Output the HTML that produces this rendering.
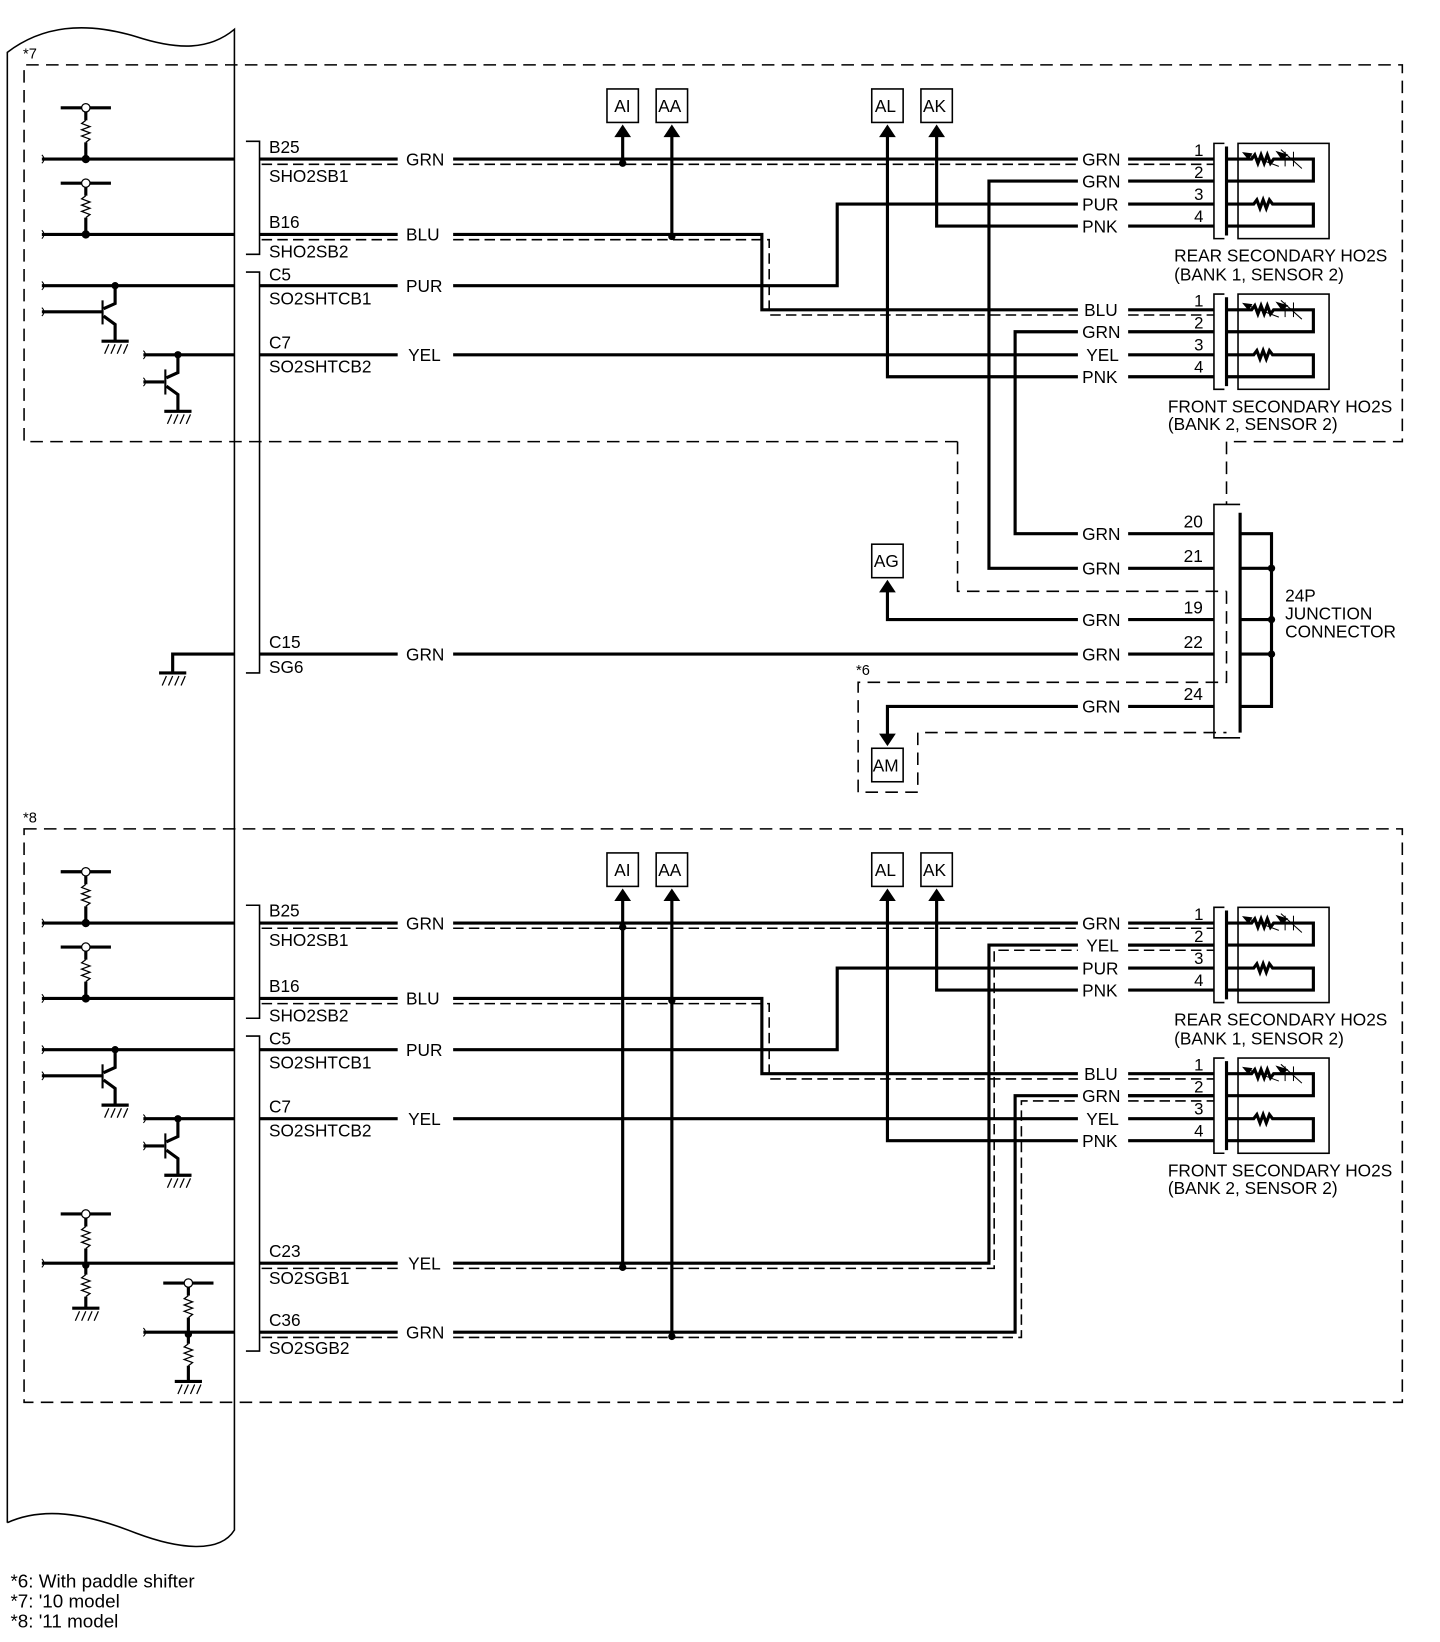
<!DOCTYPE html>
<html><head><meta charset="utf-8"><style>
html,body{margin:0;padding:0;background:#fff}
svg{display:block}
text{font-family:"Liberation Sans",Arial,sans-serif;fill:#000;stroke:none}
</style></head><body>
<svg width="1440" height="1642" viewBox="0 0 1376 1569" preserveAspectRatio="none" xmlns="http://www.w3.org/2000/svg">
<defs>
<g id="pu">
 <line x1="58" y1="0" x2="106" y2="0" stroke="#000" stroke-width="3"/>
 <circle cx="82" cy="0" r="4" fill="#fff" stroke="#000" stroke-width="1.2"/>
 <line x1="82" y1="4" x2="82" y2="12" stroke="#000" stroke-width="3"/>
 <polyline points="82,12 78,15 86,18 78,21 86,24 78,27 86,30 82,33" fill="none" stroke="#000" stroke-width="1.2"/>
 <line x1="82" y1="33" x2="82" y2="49" stroke="#000" stroke-width="3"/>
 <circle cx="82" cy="49" r="3.5" fill="#000"/>
</g>
<g id="gnd">
 <line x1="-13" y1="0" x2="13" y2="0" stroke="#000" stroke-width="3"/>
 <path d="M-10,12 L-6,3 M-4,12 L0,3 M2,12 L6,3 M8,12 L12,3" stroke="#000" stroke-width="1.2"/>
</g>
<g id="sensor">
 <path d="M1170,0 L1160,0 L1160,91 L1170,91" fill="none" stroke="#000" stroke-width="1.5"/>
 <line x1="1172" y1="3" x2="1172" y2="88" stroke="#000" stroke-width="3"/>
 <rect x="1183" y="0" width="87" height="91" fill="none" stroke="#000" stroke-width="1.5"/>
 <polyline points="1172,15 1196,15 1199,11 1202,19 1205,11 1208,19 1211,11 1214,19 1217,15 1255,15 1255,36 1172,36" fill="none" stroke="#000" stroke-width="3"/>
 <line x1="1190" y1="10" x2="1222" y2="22" stroke="#000" stroke-width="1"/>
 <polygon points="1188,9 1196,10 1193,15" fill="#000"/>
 <line x1="1228" y1="8" x2="1228" y2="22" stroke="#000" stroke-width="1"/>
 <line x1="1236" y1="8" x2="1236" y2="22" stroke="#000" stroke-width="1"/>
 <line x1="1224" y1="6" x2="1244" y2="24" stroke="#000" stroke-width="1"/>
 <polygon points="1220,8 1230,11 1225,15" fill="#000"/>
 <polyline points="1172,58 1198,58 1201,54 1204,62 1207,54 1210,62 1213,54 1216,58 1255,58 1255,79 1172,79" fill="none" stroke="#000" stroke-width="3"/>
 <text x="1141" y="12" font-size="16">1</text>
 <text x="1141" y="33" font-size="16">2</text>
 <text x="1141" y="54" font-size="16">3</text>
 <text x="1141" y="75" font-size="16">4</text>
</g>
<g id="box"><rect x="0" y="0" width="30" height="32" fill="#fff" stroke="#000" stroke-width="1.5"/></g>
<g id="panel" stroke="#000" fill="none">
 <use href="#pu" y="103"/>
 <use href="#pu" y="175"/>
 <line x1="40" y1="152" x2="224" y2="152" stroke-width="3"/>
 <line x1="40" y1="224" x2="224" y2="224" stroke-width="3"/>
 <line x1="40" y1="273" x2="224" y2="273" stroke-width="3"/>
 <circle cx="110" cy="273" r="3.5" fill="#000" stroke="none"/>
 <line x1="40" y1="298" x2="97" y2="298" stroke-width="3"/>
 <line x1="98" y1="287" x2="98" y2="310" stroke-width="2"/>
 <polyline points="110,273 110,290 99,295" stroke-width="3"/>
 <polyline points="99,302 110,310 110,326" stroke-width="3"/>
 <use href="#gnd" x="110" y="326"/>
 <line x1="137" y1="339" x2="224" y2="339" stroke-width="3"/>
 <circle cx="170" cy="339" r="3.5" fill="#000" stroke="none"/>
 <line x1="137" y1="365" x2="157" y2="365" stroke-width="3"/>
 <line x1="158" y1="353" x2="158" y2="377" stroke-width="2"/>
 <polyline points="170,339 170,356 159,361" stroke-width="3"/>
 <polyline points="159,369 170,377 170,393" stroke-width="3"/>
 <use href="#gnd" x="170" y="393"/>
 <path d="M40,148 q4,4 0,8 M40,220 q4,4 0,8 M40,269 q4,4 0,8 M40,294 q4,4 0,8 M137,335 q4,4 0,8 M137,361 q4,4 0,8" stroke-width="1"/>
 <path d="M235,135 L248,135 L248,243 L235,243" stroke-width="1.5"/>
 <line x1="248" y1="152" x2="380" y2="152" stroke-width="3"/>
 <line x1="433" y1="152" x2="1030" y2="152" stroke-width="3"/>
 <line x1="1078" y1="152" x2="1160" y2="152" stroke-width="3"/>
 <line x1="250" y1="157" x2="380" y2="157" stroke-width="1.5" stroke-dasharray="10,5"/>
 <line x1="433" y1="157" x2="1030" y2="157" stroke-width="1.5" stroke-dasharray="10,5"/>
 <line x1="1078" y1="157" x2="1160" y2="157" stroke-width="1.5" stroke-dasharray="10,5"/>
 <line x1="248" y1="224" x2="380" y2="224" stroke-width="3"/>
 <polyline points="433,224 728,224 728,296 1030,296" stroke-width="3"/>
 <line x1="1078" y1="296" x2="1160" y2="296" stroke-width="3"/>
 <line x1="250" y1="229" x2="380" y2="229" stroke-width="1.5" stroke-dasharray="10,5"/>
 <polyline points="433,229 735,229 735,301 1030,301" stroke-width="1.5" stroke-dasharray="10,5"/>
 <line x1="1078" y1="301" x2="1160" y2="301" stroke-width="1.5" stroke-dasharray="10,5"/>
 <line x1="248" y1="273" x2="380" y2="273" stroke-width="3"/>
 <polyline points="433,273 800,273 800,195 1030,195" stroke-width="3"/>
 <line x1="1078" y1="195" x2="1160" y2="195" stroke-width="3"/>
 <line x1="248" y1="339" x2="380" y2="339" stroke-width="3"/>
 <line x1="433" y1="339" x2="1030" y2="339" stroke-width="3"/>
 <line x1="1078" y1="339" x2="1160" y2="339" stroke-width="3"/>
 <polyline points="895,122 895,216 1030,216" stroke-width="3"/>
 <line x1="1078" y1="216" x2="1160" y2="216" stroke-width="3"/>
 <polyline points="848,122 848,360 1030,360" stroke-width="3"/>
 <line x1="1078" y1="360" x2="1160" y2="360" stroke-width="3"/>
 <line x1="1078" y1="173" x2="1160" y2="173" stroke-width="3"/>
 <line x1="1078" y1="317" x2="1160" y2="317" stroke-width="3"/>
 <line x1="595" y1="122" x2="595" y2="152" stroke-width="3"/>
 <line x1="642" y1="122" x2="642" y2="224" stroke-width="3"/>
 <circle cx="642" cy="226" r="3.5" fill="#000" stroke="none"/>
 <polygon points="587,131 595,119 603,131" fill="#000" stroke="none"/>
 <polygon points="634,131 642,119 650,131" fill="#000" stroke="none"/>
 <polygon points="840,131 848,119 856,131" fill="#000" stroke="none"/>
 <polygon points="887,131 895,119 903,131" fill="#000" stroke="none"/>
 <use href="#box" x="580" y="85"/>
 <use href="#box" x="627" y="85"/>
 <use href="#box" x="833" y="85"/>
 <use href="#box" x="880" y="85"/>
 <use href="#sensor" y="137"/>
 <use href="#sensor" y="281"/>
</g>
<g id="ptext" font-size="16.5">
 <text x="257" y="146">B25</text><text x="257" y="174">SHO2SB1</text>
 <text x="257" y="218">B16</text><text x="257" y="246">SHO2SB2</text>
 <text x="257" y="268">C5</text><text x="257" y="291">SO2SHTCB1</text>
 <text x="257" y="333">C7</text><text x="257" y="356">SO2SHTCB2</text>
 <text x="388" y="158">GRN</text><text x="388" y="230">BLU</text>
 <text x="388" y="279">PUR</text><text x="390" y="345">YEL</text>
 <text x="587" y="107">AI</text><text x="629" y="107">AA</text>
 <text x="836" y="107">AL</text><text x="882" y="107">AK</text>
 <text x="1122" y="250">REAR SECONDARY HO2S</text><text x="1122" y="268">(BANK 1, SENSOR 2)</text>
 <text x="1116" y="394">FRONT SECONDARY HO2S</text><text x="1116" y="411">(BANK 2, SENSOR 2)</text>
</g>
</defs>

<path d="M7,1455 L7,50 C40,25 80,20 130,35 C170,48 200,48 224,28 L224,1462 C210,1485 170,1480 130,1465 C80,1445 40,1440 7,1455" fill="none" stroke="#000" stroke-width="1.5"/>

<text x="22" y="56" font-size="14">*7</text>
<path d="M915,422 L23,422 L23,62 L1340,62 L1340,422 L1172,422 L1172,482" fill="none" stroke="#000" stroke-width="1.5" stroke-dasharray="12,7"/>
<path d="M915,422 L915,565 L1172,565" fill="none" stroke="#000" stroke-width="1.5" stroke-dasharray="12,7"/>
<use href="#panel"/>
<use href="#ptext"/>
<g font-size="16.5">
 <text x="1034" y="158">GRN</text><text x="1034" y="179">GRN</text><text x="1034" y="201">PUR</text><text x="1034" y="222">PNK</text>
 <text x="1036" y="302">BLU</text><text x="1034" y="323">GRN</text><text x="1038" y="345">YEL</text><text x="1034" y="366">PNK</text>
</g>
<circle cx="595" cy="156" r="3.5" fill="#000"/>
<g stroke="#000" fill="none" stroke-width="3">
 <polyline points="1030,173 945,173 945,543 1030,543"/>
 <polyline points="1030,317 970,317 970,510 1030,510"/>
 <line x1="1078" y1="510" x2="1160" y2="510"/>
 <line x1="1078" y1="543" x2="1160" y2="543"/>
 <polyline points="1030,592 848,592 848,565"/>
 <line x1="1078" y1="592" x2="1160" y2="592"/>
 <line x1="248" y1="625" x2="380" y2="625"/>
 <line x1="433" y1="625" x2="1030" y2="625"/>
 <line x1="1078" y1="625" x2="1160" y2="625"/>
 <polyline points="1030,675 848,675 848,702"/>
 <line x1="1078" y1="675" x2="1160" y2="675"/>
 <polyline points="165,643 165,625 224,625"/>
 <line x1="1185" y1="490" x2="1185" y2="700"/>
 <polyline points="1185,510 1215,510 1215,675 1185,675"/>
 <line x1="1185" y1="543" x2="1215" y2="543"/>
 <line x1="1185" y1="592" x2="1215" y2="592"/>
 <line x1="1185" y1="625" x2="1215" y2="625"/>
</g>
<use href="#gnd" x="165" y="643"/>
<circle cx="1215" cy="543" r="3.5" fill="#000"/><circle cx="1215" cy="592" r="3.5" fill="#000"/><circle cx="1215" cy="625" r="3.5" fill="#000"/>
<path d="M1185,482 L1160,482 L1160,705 L1185,705" fill="none" stroke="#000" stroke-width="1.5"/>
<path d="M235,260 L248,260 L248,643 L235,643" fill="none" stroke="#000" stroke-width="1.5"/>
<polygon points="840,566 848,554 856,566" fill="#000"/>
<polygon points="840,701 848,713 856,701" fill="#000"/>
<use href="#box" x="833" y="520"/>
<use href="#box" x="833" y="715"/>
<path d="M1172,565 L1172,652 L820,652 L820,757 L877,757 L877,700 L1172,700" fill="none" stroke="#000" stroke-width="1.5" stroke-dasharray="12,7"/>
<g font-size="16.5">
 <text x="835" y="542">AG</text><text x="834" y="737">AM</text>
 <text x="1131" y="504">20</text><text x="1131" y="537">21</text><text x="1131" y="586">19</text><text x="1131" y="619">22</text><text x="1131" y="669">24</text>
 <text x="1034" y="516">GRN</text><text x="1034" y="549">GRN</text><text x="1034" y="598">GRN</text><text x="1034" y="631">GRN</text><text x="1034" y="681">GRN</text>
 <text x="257" y="619">C15</text><text x="257" y="643">SG6</text><text x="388" y="631">GRN</text>
 <text x="1228" y="575">24P</text><text x="1228" y="592">JUNCTION</text><text x="1228" y="609">CONNECTOR</text>
 <text x="818" y="645" font-size="14">*6</text>
</g>

<text x="22" y="786" font-size="14">*8</text>
<rect x="23" y="792" width="1317" height="548" fill="none" stroke="#000" stroke-width="1.5" stroke-dasharray="12,7"/>
<g transform="translate(0,730)"><use href="#panel"/><use href="#ptext"/></g>
<g font-size="16.5">
 <text x="1034" y="888">GRN</text><text x="1038" y="909">YEL</text><text x="1034" y="931">PUR</text><text x="1034" y="952">PNK</text>
 <text x="1036" y="1032">BLU</text><text x="1034" y="1053">GRN</text><text x="1038" y="1075">YEL</text><text x="1034" y="1096">PNK</text>
 <text x="257" y="1201">C23</text><text x="257" y="1227">SO2SGB1</text><text x="390" y="1213">YEL</text>
 <text x="257" y="1267">C36</text><text x="257" y="1294">SO2SGB2</text><text x="388" y="1279">GRN</text>
</g>
<path d="M235,990 L248,990 L248,1291 L235,1291" fill="none" stroke="#000" stroke-width="1.5"/>
<g stroke="#000" fill="none">
 <line x1="595" y1="882" x2="595" y2="1207" stroke-width="3"/>
 <line x1="642" y1="954" x2="642" y2="1273" stroke-width="3"/>
 <line x1="40" y1="1207" x2="224" y2="1207" stroke-width="3"/>
 <line x1="248" y1="1207" x2="380" y2="1207" stroke-width="3"/>
 <polyline points="433,1207 945,1207 945,903 1030,903" stroke-width="3"/>
 <line x1="1078" y1="903" x2="1160" y2="903" stroke-width="3"/>
 <line x1="250" y1="1212" x2="380" y2="1212" stroke-width="1.5" stroke-dasharray="10,5"/>
 <polyline points="433,1212 950,1212 950,908 1030,908" stroke-width="1.5" stroke-dasharray="10,5"/>
 <line x1="1078" y1="908" x2="1160" y2="908" stroke-width="1.5" stroke-dasharray="10,5"/>
 <line x1="137" y1="1273" x2="224" y2="1273" stroke-width="3"/>
 <line x1="248" y1="1273" x2="380" y2="1273" stroke-width="3"/>
 <polyline points="433,1273 970,1273 970,1047 1030,1047" stroke-width="3"/>
 <line x1="1078" y1="1047" x2="1160" y2="1047" stroke-width="3"/>
 <line x1="250" y1="1278" x2="380" y2="1278" stroke-width="1.5" stroke-dasharray="10,5"/>
 <polyline points="433,1278 976,1278 976,1052 1030,1052" stroke-width="1.5" stroke-dasharray="10,5"/>
 <line x1="1078" y1="1052" x2="1160" y2="1052" stroke-width="1.5" stroke-dasharray="10,5"/>
 <path d="M40,1203 q4,4 0,8 M137,1269 q4,4 0,8" stroke-width="1"/>
 <line x1="82" y1="1207" x2="82" y2="1218" stroke-width="3"/>
 <polyline points="82,1218 78,1221 86,1224 78,1227 86,1230 78,1233 86,1236 82,1239" stroke-width="1.2"/>
 <line x1="82" y1="1239" x2="82" y2="1250" stroke-width="3"/>
 <line x1="180" y1="1273" x2="180" y2="1284" stroke-width="3"/>
 <polyline points="180,1284 176,1287 184,1290 176,1293 184,1296 176,1299 184,1302 180,1305" stroke-width="1.2"/>
 <line x1="180" y1="1305" x2="180" y2="1320" stroke-width="3"/>
</g>
<use href="#pu" y="1160"/>
<use href="#pu" x="98" y="1226"/>
<use href="#gnd" x="82" y="1250"/>
<use href="#gnd" x="180" y="1320"/>
<circle cx="595" cy="886" r="3.5" fill="#000"/>
<circle cx="595" cy="1211" r="3.5" fill="#000"/>
<circle cx="642" cy="1277" r="3.5" fill="#000"/>

<g font-size="18">
 <text x="10" y="1517">*6:  With paddle shifter</text>
 <text x="10" y="1536">*7:  '10 model</text>
 <text x="10" y="1555">*8:  '11 model</text>
</g>
</svg>
</body></html>
